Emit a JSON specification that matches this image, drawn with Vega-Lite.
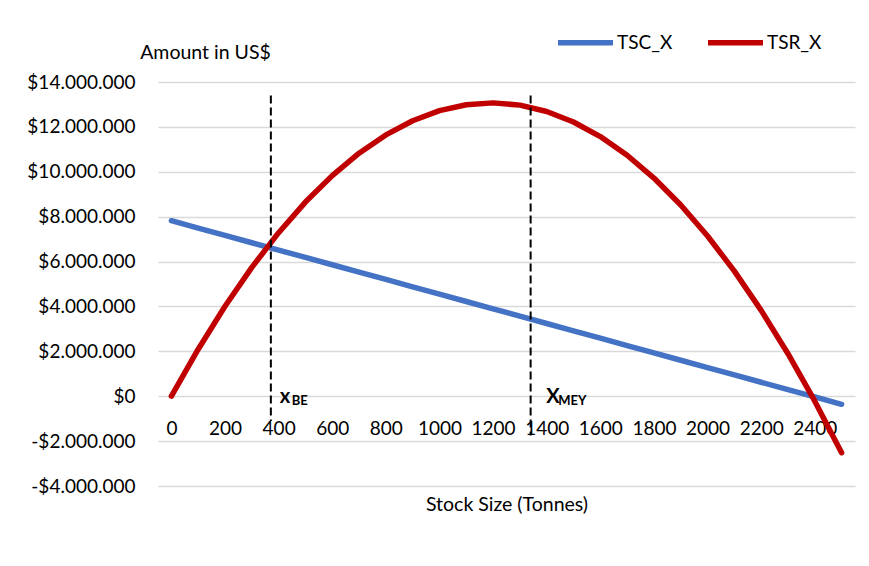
{
  "$schema": "https://vega.github.io/schema/vega-lite/v6.json",
  "width": 697,
  "height": 404,
  "autosize": {"type": "none"},
  "padding": {"left": 158, "top": 82, "right": 14, "bottom": 80},
  "background": "white",
  "config": {
    "view": {"stroke": null},
    "font": "Lato",
    "locale": {
      "number": {
        "decimal": ",",
        "thousands": ".",
        "grouping": [3],
        "currency": ["$", ""],
        "minus": "-"
      }
    }
  },
  "datasets": {
    "curves": [
      {"stock": 0, "series": "TSC_X", "amount": 7820000},
      {"stock": 100, "series": "TSC_X", "amount": 7493000},
      {"stock": 200, "series": "TSC_X", "amount": 7166000},
      {"stock": 300, "series": "TSC_X", "amount": 6838000},
      {"stock": 400, "series": "TSC_X", "amount": 6511000},
      {"stock": 500, "series": "TSC_X", "amount": 6184000},
      {"stock": 600, "series": "TSC_X", "amount": 5857000},
      {"stock": 700, "series": "TSC_X", "amount": 5530000},
      {"stock": 800, "series": "TSC_X", "amount": 5202000},
      {"stock": 900, "series": "TSC_X", "amount": 4875000},
      {"stock": 1000, "series": "TSC_X", "amount": 4548000},
      {"stock": 1100, "series": "TSC_X", "amount": 4221000},
      {"stock": 1200, "series": "TSC_X", "amount": 3894000},
      {"stock": 1300, "series": "TSC_X", "amount": 3566000},
      {"stock": 1400, "series": "TSC_X", "amount": 3239000},
      {"stock": 1500, "series": "TSC_X", "amount": 2912000},
      {"stock": 1600, "series": "TSC_X", "amount": 2585000},
      {"stock": 1700, "series": "TSC_X", "amount": 2258000},
      {"stock": 1800, "series": "TSC_X", "amount": 1930000},
      {"stock": 1900, "series": "TSC_X", "amount": 1603000},
      {"stock": 2000, "series": "TSC_X", "amount": 1276000},
      {"stock": 2100, "series": "TSC_X", "amount": 949000},
      {"stock": 2200, "series": "TSC_X", "amount": 622000},
      {"stock": 2300, "series": "TSC_X", "amount": 294000},
      {"stock": 2400, "series": "TSC_X", "amount": -33000},
      {"stock": 2500, "series": "TSC_X", "amount": -360000},
      {"stock": 0, "series": "TSR_X", "amount": 0},
      {"stock": 100, "series": "TSR_X", "amount": 2096000},
      {"stock": 200, "series": "TSR_X", "amount": 4009000},
      {"stock": 300, "series": "TSR_X", "amount": 5739000},
      {"stock": 400, "series": "TSR_X", "amount": 7286000},
      {"stock": 500, "series": "TSR_X", "amount": 8650000},
      {"stock": 600, "series": "TSR_X", "amount": 9830000},
      {"stock": 700, "series": "TSR_X", "amount": 10828000},
      {"stock": 800, "series": "TSR_X", "amount": 11643000},
      {"stock": 900, "series": "TSR_X", "amount": 12274000},
      {"stock": 1000, "series": "TSR_X", "amount": 12723000},
      {"stock": 1100, "series": "TSR_X", "amount": 12988000},
      {"stock": 1200, "series": "TSR_X", "amount": 13070000},
      {"stock": 1300, "series": "TSR_X", "amount": 12970000},
      {"stock": 1400, "series": "TSR_X", "amount": 12686000},
      {"stock": 1500, "series": "TSR_X", "amount": 12219000},
      {"stock": 1600, "series": "TSR_X", "amount": 11569000},
      {"stock": 1700, "series": "TSR_X", "amount": 10736000},
      {"stock": 1800, "series": "TSR_X", "amount": 9720000},
      {"stock": 1900, "series": "TSR_X", "amount": 8521000},
      {"stock": 2000, "series": "TSR_X", "amount": 7139000},
      {"stock": 2100, "series": "TSR_X", "amount": 5574000},
      {"stock": 2200, "series": "TSR_X", "amount": 3826000},
      {"stock": 2300, "series": "TSR_X", "amount": 1895000},
      {"stock": 2400, "series": "TSR_X", "amount": -220000},
      {"stock": 2500, "series": "TSR_X", "amount": -2517000}
    ],
    "markers": [
      {"point": "BE", "stock": 371, "top": 13400000, "bottom": -1100000, "symbol": "x", "sub": "BE", "label_stock": 404},
      {"point": "MEY", "stock": 1340, "top": 13400000, "bottom": -1750000, "symbol": "X", "sub": "MEY", "label_stock": 1398}
    ]
  },
  "layer": [
    {
      "data": {"name": "curves"},
      "mark": {"type": "line", "strokeWidth": 5.5, "strokeCap": "round", "strokeJoin": "round"},
      "encoding": {
        "x": {
          "field": "stock",
          "type": "quantitative",
          "scale": {"domain": [-50, 2550], "nice": false, "zero": false},
          "axis": {
            "title": "Stock Size (Tonnes)",
            "values": [0, 200, 400, 600, 800, 1000, 1200, 1400, 1600, 1800, 2000, 2200, 2400],
            "format": "d",
            "offset": -90,
            "domain": false,
            "ticks": false,
            "grid": false,
            "labelFontSize": 19,
            "labelColor": "#000000",
            "labelBaseline": "middle",
            "labelPadding": 32,
            "labelFlush": false,
            "labelOverlap": false,
            "titleFontSize": 19.5,
            "titleFontWeight": "normal",
            "titleColor": "#000000",
            "titleBaseline": "middle",
            "titleY": 108
          }
        },
        "y": {
          "field": "amount",
          "type": "quantitative",
          "scale": {"domain": [-4000000, 14000000], "nice": false},
          "axis": {
            "title": "Amount in US$",
            "values": [-4000000, -2000000, 0, 2000000, 4000000, 6000000, 8000000, 10000000, 12000000, 14000000],
            "format": "$,.0f",
            "domain": false,
            "ticks": false,
            "gridColor": "#D9D9D9",
            "gridWidth": 1.3,
            "labelFontSize": 19,
            "labelColor": "#000000",
            "labelPadding": 23,
            "titleFontSize": 19.5,
            "titleFontWeight": "normal",
            "titleColor": "#000000",
            "titleAngle": 0,
            "titleAlign": "center",
            "titleBaseline": "middle",
            "titleX": 47,
            "titleY": -30
          }
        },
        "color": {
          "field": "series",
          "type": "nominal",
          "scale": {"domain": ["TSC_X", "TSR_X"], "range": ["#4472C4", "#C00000"]},
          "legend": {
            "title": null,
            "orient": "none",
            "direction": "horizontal",
            "legendX": 397,
            "legendY": -70,
            "symbolType": "stroke",
            "symbolSize": 3025,
            "symbolStrokeWidth": 5.5,
            "labelFontSize": 19,
            "labelColor": "#000000",
            "labelOffset": 1,
            "columnPadding": 24
          }
        },
        "detail": {"field": "series"}
      }
    },
    {
      "data": {"name": "markers"},
      "mark": {"type": "rule", "color": "#000000", "strokeWidth": 2, "strokeDash": [8, 4]},
      "encoding": {
        "x": {"field": "stock", "type": "quantitative"},
        "y": {"field": "top", "type": "quantitative"},
        "y2": {"field": "bottom"}
      }
    },
    {
      "data": {"name": "markers"},
      "mark": {"type": "text", "align": "left", "baseline": "middle", "fontSize": 20, "fontWeight": "bold", "color": "#000000", "dy": 1},
      "encoding": {
        "x": {"field": "label_stock", "type": "quantitative"},
        "y": {"datum": 0, "type": "quantitative"},
        "text": {"field": "symbol"}
      }
    },
    {
      "data": {"name": "markers"},
      "mark": {"type": "text", "align": "left", "baseline": "middle", "fontSize": 13, "fontWeight": "bold", "color": "#000000", "dx": 12, "dy": 5},
      "encoding": {
        "x": {"field": "label_stock", "type": "quantitative"},
        "y": {"datum": 0, "type": "quantitative"},
        "text": {"field": "sub"}
      }
    }
  ]
}
